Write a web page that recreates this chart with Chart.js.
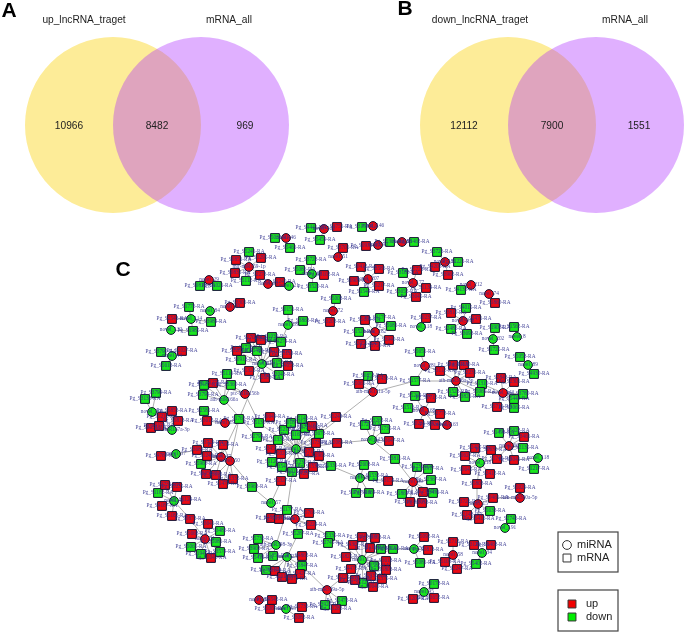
<!DOCTYPE html>
<html><head><meta charset="utf-8">
<style>html,body{margin:0;padding:0;background:#fff;overflow:hidden}canvas{display:block;filter:blur(.35px)}</style>
<script src="https://cdn.jsdelivr.net/npm/chart.js@4"></script></head>
<body><canvas id="c" width="685" height="633"></canvas>
<script>
const vennYellow=[[113,125],[508,125]];
const vennPurple=[[201,125],[596,125]];
const vennTexts=[[69,126,"10966"],[157,126,"8482"],[245,126,"969"],[464,126,"12112"],[552,126,"7900"],[639,126,"1551"],
[84,20,"up_lncRNA_traget"],[229,20,"mRNA_all"],[480,20,"down_lncRNA_traget"],[625,20,"mRNA_all"]];
const panelLetters=[[9,11,"A"],[405,9,"B"],[123,270,"C"]];
const upMirna=[[324,229,"novel_120"],[286,238,"novel_46"],[338,257,"novel_51"],[249,267,"mtr-miR159-1p"],[268,284,"novel_63"],[209,280,"novel_29"],[333,311,"novel_72"],[230,307,"novel_30"],[373,226,"novel_146"],[378,245,"novel_90"],[402,242,"novel_88"],[445,262,"novel_131"],[368,279,"novel_207"],[413,283,"novel_177"],[471,285,"novel_212"],[489,294,"novel_74"],[463,321,"novel_216"],[375,332,"novel_182"],[425,366,"novel_281"],[456,381,"ath-miR396a-3p"],[503,393,"novel_143"],[373,392,"ath-miR171a-5p"],[424,411,"novel_168"],[447,425,"novel_163"],[245,394,"ptc-MIR156b"],[225,423,"novel_19"],[221,457,"novel_47"],[230,461,"novel_50"],[295,519,"novel_77"],[205,539,"novel_31"],[327,590,"ath-miR319a-5p"],[259,600,"novel_85"],[453,555,"novel_58"],[509,446,"novel_66"],[520,498,"ath-miR390a-5p"],[478,504,"novel_15"],[413,482,"novel_99"]];
const downMirna=[[312,274,"novel_39"],[289,286,"novel_21"],[210,311,"novel_84"],[191,319,"novel_114"],[171,330,"novel_132"],[288,325,"novel_18"],[262,364,"novel_61"],[224,400,"ath-miR166a"],[172,356,"novel_44"],[152,412,"novel_106"],[172,430,"osa-miR167a-3p"],[176,454,"novel_37"],[296,449,"novel_13"],[271,503,"novel_57"],[276,545,"ath-miR398-3p"],[287,557,"novel_23"],[174,501,"novel_41"],[286,609,"novel_55"],[372,440,"novel_115"],[360,478,"novel_26"],[421,327,"novel_118"],[517,337,"novel_8"],[493,339,"novel_202"],[528,365,"novel_89"],[480,463,"novel_218"],[538,458,"novel_118"],[505,528,"novel_191"],[362,560,"novel_12"],[414,549,"novel_76"],[482,553,"novel_34"],[424,592,"novel_95"]];
const upMrna=[[337,227,"3751"],[343,248,"3701"],[261,258,"1295"],[236,260,"0851"],[235,273,"0831"],[260,275,"2273"],[280,282,"1240"],[324,275,"5102"],[330,322,"3203"],[240,303,"3301"],[172,319,"2543"],[251,338,"1702"],[261,340,"3190"],[237,351,"3282"],[274,352,"0413"],[287,354,"5118"],[288,366,"4053"],[249,371,"5323"],[265,378,"2681"],[213,383,"1274"],[182,351,"2027"],[162,417,"5212"],[172,411,"5853"],[366,246,"0932"],[361,267,"0412"],[379,269,"3586"],[435,267,"4203"],[448,275,"3962"],[354,281,"0901"],[379,286,"5217"],[417,270,"5723"],[426,288,"1134"],[416,297,"3645"],[495,303,"1860"],[451,313,"3810"],[476,319,"2471"],[426,318,"0237"],[365,320,"5664"],[361,344,"2051"],[389,340,"3940"],[375,346,"3750"],[440,371,"3112"],[453,365,"2460"],[464,365,"1630"],[470,373,"2231"],[501,378,"2843"],[514,382,"2301"],[497,407,"5712"],[382,379,"1433"],[359,384,"5061"],[431,398,"0712"],[440,414,"2773"],[419,424,"0231"],[435,425,"5243"],[389,441,"3647"],[388,481,"3154"],[423,492,"1272"],[410,502,"1861"],[422,503,"2053"],[524,437,"3461"],[475,448,"2407"],[491,450,"0633"],[465,456,"0627"],[497,459,"1742"],[514,460,"2041"],[466,470,"0645"],[490,474,"2412"],[477,484,"5803"],[520,488,"5029"],[493,498,"0461"],[464,502,"3726"],[467,515,"2148"],[479,519,"5416"],[362,537,"1243"],[375,538,"0553"],[353,545,"4307"],[370,548,"2116"],[346,557,"1825"],[386,561,"3618"],[351,569,"4472"],[386,570,"1803"],[371,576,"0936"],[343,578,"5127"],[355,580,"3241"],[382,579,"2375"],[373,587,"0640"],[424,537,"5092"],[428,550,"3813"],[453,542,"2712"],[445,562,"5103"],[457,569,"2247"],[474,545,"3129"],[491,545,"5468"],[413,599,"1204"],[434,598,"3652"],[178,421,"5813"],[151,428,"2054"],[159,426,"4176"],[207,421,"3612"],[270,417,"0649"],[312,426,"3186"],[336,417,"5248"],[316,443,"1739"],[337,443,"2081"],[271,449,"3457"],[281,454,"5026"],[309,452,"3714"],[319,456,"2963"],[313,467,"1538"],[304,474,"4287"],[281,481,"5327"],[208,443,"3729"],[223,445,"1504"],[197,450,"3684"],[207,456,"1240"],[161,456,"4780"],[206,474,"3056"],[216,475,"5192"],[233,479,"2332"],[223,484,"1473"],[309,513,"5761"],[271,518,"4830"],[279,519,"1076"],[311,525,"5224"],[302,556,"4862"],[275,571,"3149"],[300,574,"1427"],[282,577,"5610"],[292,579,"3071"],[336,609,"1283"],[272,600,"4542"],[270,609,"5067"],[302,607,"1736"],[299,618,"3082"],[165,485,"2731"],[177,487,"5235"],[186,500,"1124"],[162,506,"4187"],[172,516,"5182"],[190,519,"0873"],[208,524,"3641"],[192,534,"5668"],[211,558,"1043"]];
const downMrna=[[311,228,"4441"],[275,238,"5032"],[320,240,"5459"],[290,248,"5461"],[249,252,"5241"],[246,281,"5112"],[311,260,"3728"],[300,270,"5086"],[313,287,"3520"],[200,286,"0818"],[217,286,"1021"],[336,299,"5008"],[189,307,"1776"],[211,322,"3984"],[193,331,"1985"],[288,310,"0151"],[303,321,"3863"],[272,337,"1039"],[281,342,"4274"],[246,348,"1728"],[257,351,"5463"],[241,360,"0918"],[277,363,"4153"],[279,375,"2048"],[227,374,"5116"],[204,385,"5187"],[231,385,"5360"],[203,395,"3794"],[161,352,"3790"],[166,366,"5613"],[156,393,"3799"],[145,399,"3138"],[204,411,"2581"],[362,227,"3158"],[390,242,"5306"],[414,242,"1462"],[437,252,"3726"],[458,262,"1221"],[364,292,"1544"],[403,273,"3183"],[402,292,"3652"],[461,290,"4133"],[466,308,"4015"],[451,329,"2486"],[467,334,"3693"],[495,328,"1903"],[514,327,"1562"],[494,350,"1725"],[520,357,"5058"],[380,318,"4177"],[391,326,"5681"],[359,332,"1523"],[420,352,"5651"],[415,381,"1577"],[482,384,"1310"],[453,392,"1528"],[465,397,"3821"],[480,392,"5069"],[523,394,"3780"],[514,399,"5448"],[514,408,"2065"],[368,376,"0853"],[415,396,"5264"],[408,408,"1516"],[365,425,"1725"],[377,421,"3262"],[385,429,"1735"],[395,459,"3811"],[417,467,"1732"],[428,469,"3917"],[431,480,"2367"],[373,476,"1532"],[356,493,"1747"],[369,493,"0884"],[364,465,"2603"],[402,494,"1864"],[433,493,"3451"],[499,433,"1493"],[514,431,"5628"],[523,448,"2135"],[534,469,"1217"],[490,511,"5633"],[511,519,"2746"],[381,549,"5024"],[393,549,"3166"],[374,566,"0582"],[363,583,"5120"],[342,601,"2476"],[420,563,"5081"],[476,564,"5402"],[434,584,"0178"],[534,374,"4930"],[239,419,"1763"],[259,423,"5132"],[257,437,"2794"],[278,440,"1338"],[284,430,"5213"],[291,423,"0187"],[302,419,"5146"],[305,428,"3726"],[296,435,"1162"],[319,434,"3678"],[272,462,"1124"],[300,463,"5230"],[282,467,"3541"],[331,466,"5331"],[292,472,"0912"],[201,464,"5960"],[252,487,"3963"],[287,510,"1177"],[298,534,"5287"],[330,536,"5335"],[328,543,"2741"],[258,539,"5736"],[254,549,"3902"],[258,558,"5412"],[273,556,"1856"],[302,566,"3847"],[266,570,"5082"],[325,605,"3924"],[158,493,"1182"],[220,531,"3486"],[216,542,"5081"],[191,547,"5061"],[220,552,"3574"],[201,554,"1947"]];
const links=[
[324,229,311,228,337,227,320,240],[286,238,275,238],[338,257,343,248],[249,267,249,252,261,258,236,260,235,273,260,275,246,281],[268,284,280,282],[209,280,200,286,217,286],[333,311,336,299,330,322],[230,307,240,303],[373,226,362,227],[378,245,366,246],[402,242,390,242,414,242],[445,262,437,252,458,262,435,267,448,275],[368,279,361,267,379,269,354,281,379,286,364,292],[413,283,403,273,417,270,426,288,402,292,416,297],[471,285,461,290],[489,294,495,303],[463,321,466,308,451,313,476,319,451,329,467,334],[375,332,365,320,380,318,391,326,359,332,361,344,389,340,375,346],[425,366,420,352,440,371,415,381],[456,381,453,365,464,365,470,373,440,371,415,381,482,384,453,392,465,397,480,392],[503,393,480,392,482,384,501,378,514,382,523,394,514,399,497,407,514,408],[373,392,368,376,382,379,359,384,415,381,319,434],[424,411,415,396,431,398,408,408,419,424,435,425,440,414],[447,425,435,425],[245,394,231,385,259,423,213,383],[225,423,239,419,207,421],[221,457,239,419,208,443,223,445,197,450,207,456,201,464,206,474,216,475],[230,461,239,419,223,445,207,456,233,479,223,484,216,475,252,487],[295,519,287,510,309,513,271,518,279,519,311,525,298,534,330,536],[205,539,208,524,220,531,192,534,216,542,191,547,220,552,201,554,211,558,190,519],[327,590,342,578,325,605,342,601,336,609,302,566],[259,600,272,600],[453,555,453,542,445,562,457,569],[509,446,499,433,514,431,524,437,523,448,491,450,497,459,514,460],[520,498,520,488,493,498],[478,504,477,484,493,498,464,502,490,511,467,515,479,519],[413,482,395,459,417,467,428,469,431,480,388,481,402,494,423,492,433,493,410,502,422,503],
[312,274,311,260,300,270,324,275,313,287],[289,286,280,282],[191,319,189,307,172,319,211,322,193,331],[171,330,193,331],[288,325,288,310,303,321,281,342],[262,364,251,338,261,340,272,337,281,342,246,348,237,351,257,351,274,352,287,354,241,360,277,363,288,366,249,371,279,375,265,378,239,419],[224,400,227,374,213,383,204,385,203,395,231,385,257,437],[172,356,161,352,182,351,166,366],[152,412,156,393,145,399,162,417,172,411],[172,430,151,428,159,426,178,421,172,411],[176,454,161,456,197,450],[296,449,271,449,281,454,309,452,319,456,272,462,300,463,282,467,313,467,331,466,292,472,304,474,316,443,337,443,296,435,319,434,305,428,312,426,302,419,291,423,284,430,278,440,257,437,259,423,270,417,336,417,287,510],[271,503,281,481,252,487],[276,545,258,539,254,549,258,558,287,510,273,556],[287,557,273,556,258,558,302,556,302,566,266,570,275,571,300,574,282,577,292,579,298,534],[174,501,165,485,177,487,158,493,186,500,162,506,172,516,190,519],[286,609,270,609,302,607,299,618],[372,440,365,425,377,421,385,429,389,441,395,459,337,443],[360,478,373,476,388,481,356,493,369,493,364,465,331,466],[421,327,426,318],[517,337,514,327],[493,339,495,328,494,350],[528,365,520,357,534,374],[480,463,475,448,491,450,465,456,497,459,466,470,490,474,477,484],[538,458,514,460,534,469],[505,528,511,519],[362,560,362,537,375,538,353,545,370,548,381,549,393,549,346,557,386,561,374,566,351,569,386,570,371,576,343,578,355,580,382,579,363,583,373,587,330,536],[414,549,424,537,428,550,420,563,393,549],[482,553,474,545,491,545,476,564],[424,592,434,584,413,599,434,598]];
const legendBoxes=[[558,532,60,40],[558,590,60,41]];
const legendTexts=[[577,545,"miRNA"],[577,558,"mRNA"],[586,604,"up"],[586,617,"down"]];
const legendShapeCircle=[[567,545]];
const legendShapeSquare=[[567,558]];
const legendUp=[[572,604]];
const legendDown=[[572,617]];

const RED='#ea0a14',GREEN='#1ae61e',EDGE='#111133';
const pts=a=>a.map(p=>({x:p[0],y:p[1]}));
const edgePts=[];
links.forEach(l=>{for(let i=2;i<l.length;i+=2){edgePts.push({x:l[0],y:l[1]},{x:l[i],y:l[i+1]},{x:NaN,y:NaN});}});
const ds=(data,style,color,border,r,order,bw)=>({type:'scatter',data:pts(data),pointStyle:style,backgroundColor:color,pointBackgroundColor:color,pointBorderColor:border,pointBorderWidth:bw===undefined?1:bw,pointRadius:r,pointHoverRadius:r,order,showLine:false,clip:false});
const textPlugin={id:'texts',afterDatasetsDraw(chart){
  const c=chart.ctx,X=chart.scales.x,Y=chart.scales.y;
  c.save();c.textAlign='center';c.textBaseline='middle';
  c.font='10.2px "Liberation Sans",Arial,sans-serif';c.fillStyle='#222';
  vennTexts.forEach(t=>c.fillText(t[2],X.getPixelForValue(t[0]),Y.getPixelForValue(t[1])));
  c.font='bold 21px "Liberation Sans",Arial,sans-serif';c.fillStyle='#000';
  panelLetters.forEach(t=>c.fillText(t[2],X.getPixelForValue(t[0]),Y.getPixelForValue(t[1])));
  c.font='5.3px "Liberation Serif",serif';c.fillStyle='rgba(45,45,140,.88)';
  upMrna.concat(downMrna).forEach(t=>c.fillText('Pg_S'+t[2]+'-RA',X.getPixelForValue(t[0]),Y.getPixelForValue(t[1])));
  upMirna.concat(downMirna).forEach(t=>c.fillText(t[2],X.getPixelForValue(t[0]),Y.getPixelForValue(t[1])));
  c.strokeStyle='#444';c.lineWidth=1.2;
  legendBoxes.forEach(b=>{c.strokeRect(X.getPixelForValue(b[0]),Y.getPixelForValue(b[1]),X.getPixelForValue(b[0]+b[2])-X.getPixelForValue(b[0]),Y.getPixelForValue(b[1]+b[3])-Y.getPixelForValue(b[1]));});
  c.textAlign='left';c.font='11px "Liberation Sans",Arial,sans-serif';c.fillStyle='#222';
  legendTexts.forEach(t=>c.fillText(t[2],X.getPixelForValue(t[0]),Y.getPixelForValue(t[1])));
  c.restore();
}};
new Chart(document.getElementById('c'),{
  data:{datasets:[
    ds(vennYellow,'circle','#fdec98','rgba(0,0,0,0)',88,20,0),
    ds(vennPurple,'circle','rgba(171,41,255,.37)','rgba(0,0,0,0)',88,19,0),
    {type:'scatter',data:edgePts,showLine:true,spanGaps:false,borderColor:'#b0b0b0',borderWidth:1,pointRadius:0,order:10,clip:false},
    ds(downMrna,'rect',GREEN,EDGE,6.2,5),
    ds(upMrna,'rect',RED,EDGE,6.2,4),
    ds(downMirna,'circle',GREEN,EDGE,4.4,3),
    ds(upMirna,'circle',RED,EDGE,4.4,2),
    ds(legendShapeCircle,'circle','#fff','#333',4.4,1),
    ds(legendShapeSquare,'rect','#fff','#333',5.6,1),
    ds(legendUp,'rect','#f00000','#333',5.6,1),
    ds(legendDown,'rect','#00ee00','#333',5.6,1)
  ]},
  options:{responsive:false,animation:false,devicePixelRatio:1,layout:{padding:0,autoPadding:false},
    plugins:{legend:{display:false},tooltip:{enabled:false}},events:[],
    scales:{x:{type:'linear',min:0,max:685,display:false},y:{type:'linear',min:0,max:633,reverse:true,display:false}}},
  plugins:[textPlugin]
});
</script></body></html>
